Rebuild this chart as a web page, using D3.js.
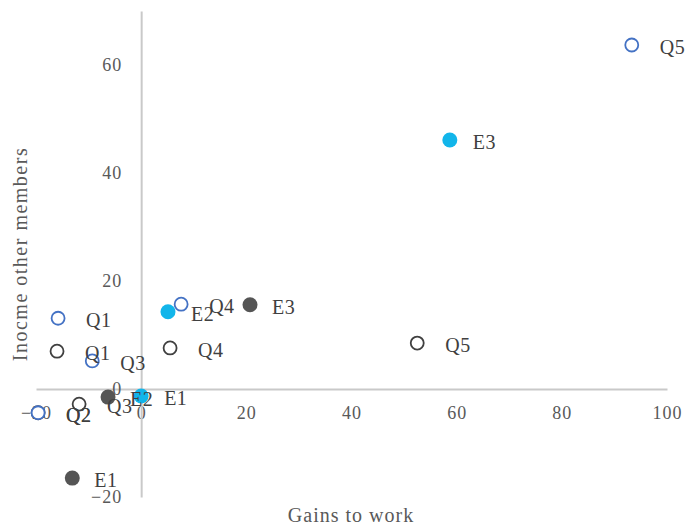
<!DOCTYPE html>
<html>
<head>
<meta charset="utf-8">
<script src="https://cdn.jsdelivr.net/npm/d3@7"></script>
<style>
  html, body { margin: 0; padding: 0; background: #fff; }
  svg { display: block; font-family: "Liberation Serif", "DejaVu Serif", serif; }
</style>
</head>
<body>
<svg id="chart" width="689" height="528"></svg>
<script>
// ---- data ----
const qLabels = ["Q1", "Q2", "Q3", "Q4", "Q5"];
const blueQx = [-15.8, -19.6, -9.3, 7.6, 93.3];
const blueQy = [13.1, -4.4, 5.2, 15.7, 63.7];
const darkQx = [-16.0, -19.6, -11.8, 5.5, 52.5];
const darkQy = [7.0, -4.4, -2.8, 7.6, 8.5];
const eLabels = ["E1", "E2", "E3"];
const cyanEx = [0.0, 5.1, 58.7];
const cyanEy = [-1.3, 14.3, 46.1];
const darkEx = [-13.1, -6.3, 20.7];
const darkEy = [-16.5, -1.5, 15.6];
const xTicks = [-20, 0, 20, 40, 60, 80, 100];
const yTicks = [-20, 0, 20, 40, 60];
const xTitle = "Gains to work";
const yTitle = "Inocme other members";

// ---- layout ----
const svg = d3.select("#chart");
const x = d3.scaleLinear().domain([-20, 100]).range([36, 667]);
const y = d3.scaleLinear().domain([-20, 70]).range([497, 11]);
const axisColor = "#c9c9c9";
const tickColor = "#595959";
const labelColor = "#404040";

// x axis at y = 0
const gx = svg.append("g")
  .attr("transform", `translate(0,${y(0)})`)
  .call(d3.axisBottom(x).tickValues(xTicks).tickSize(0).tickPadding(17).tickFormat(d3.format("d")));
gx.select(".domain").attr("stroke", axisColor).attr("stroke-width", 2);
gx.selectAll("text").attr("fill", tickColor).style("font-size", "18px")
  .style("letter-spacing", "1px")
  .style("font-family", "'Liberation Serif', serif");

// y axis at x = 0
const gy = svg.append("g")
  .attr("transform", `translate(${x(0)},0)`)
  .call(d3.axisLeft(y).tickValues(yTicks).tickSize(0).tickPadding(19).tickFormat(d3.format("d")));
gy.select(".domain").attr("stroke", axisColor).attr("stroke-width", 2);
gy.selectAll("text").attr("fill", tickColor).style("font-size", "18px")
  .style("letter-spacing", "1px")
  .style("font-family", "'Liberation Serif', serif");

// axis titles
svg.append("text")
  .attr("x", 351).attr("y", 522)
  .attr("text-anchor", "middle")
  .attr("fill", tickColor)
  .style("font-size", "20px")
  .style("letter-spacing", "1px")
  .text(xTitle);
svg.append("text")
  .attr("transform", `translate(27,254) rotate(-90)`)
  .attr("text-anchor", "middle")
  .attr("fill", tickColor)
  .style("font-size", "20px")
  .style("letter-spacing", "1.5px")
  .text(yTitle);

// series
function series(xs, ys, labels) {
  return xs.map((v, i) => ({ x: v, y: ys[i], label: labels[i] }));
}
const seriesDefs = [
  { data: series(darkQx, darkQy, qLabels), fill: "#fff", stroke: "#404040", r: 6.5, sw: 1.8, dx: 28 },
  { data: series(blueQx, blueQy, qLabels), fill: "#fff", stroke: "#4472C4", r: 6.5, sw: 1.8, dx: 28 },
  { data: series(cyanEx, cyanEy, eLabels), fill: "#12b5ea", stroke: "none", r: 7.5, sw: 0, dx: 23 },
  { data: series(darkEx, darkEy, eLabels), fill: "#555555", stroke: "none", r: 7.5, sw: 0, dx: 22 }
];

const markers = svg.append("g");
seriesDefs.forEach(s => {
  markers.append("g").selectAll("circle")
    .data(s.data).join("circle")
    .attr("cx", d => x(d.x)).attr("cy", d => y(d.y))
    .attr("r", s.r)
    .attr("fill", s.fill)
    .attr("stroke", s.stroke)
    .attr("stroke-width", s.sw);
});

const labels = svg.append("g");
seriesDefs.forEach(s => {
  labels.append("g").selectAll("text")
    .data(s.data).join("text")
    .attr("x", d => x(d.x) + s.dx)
    .attr("y", d => y(d.y) + 2)
    .attr("dy", "0.35em")
    .attr("fill", labelColor)
    .style("font-size", "20px")
    .style("letter-spacing", "0.5px")
    .text(d => d.label);
});
</script>
</body>
</html>
